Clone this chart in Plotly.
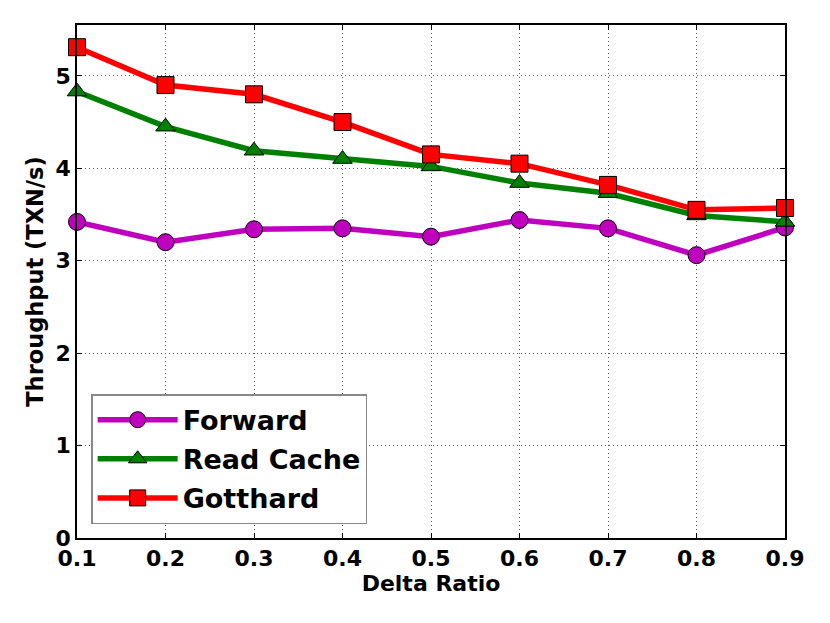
import plotly.graph_objects as go

# Delta ratio sweep
delta_ratio = [0.1, 0.2, 0.3, 0.4, 0.5, 0.6, 0.7, 0.8, 0.9]

# Throughput (TXN/s)
forward    = [3.42, 3.20, 3.34, 3.35, 3.26, 3.44, 3.35, 3.06, 3.36]
read_cache = [4.83, 4.45, 4.19, 4.10, 4.02, 3.84, 3.73, 3.49, 3.42]
gotthard   = [5.31, 4.90, 4.80, 4.50, 4.15, 4.05, 3.82, 3.55, 3.57]

x_ticks = [0.1, 0.2, 0.3, 0.4, 0.5, 0.6, 0.7, 0.8, 0.9]
y_ticks = [0, 1, 2, 3, 4, 5]

SERIES = [
    ("Forward",    forward,    "#BF00BF", "circle"),
    ("Read Cache", read_cache, "#008000", "triangle-up"),
    ("Gotthard",   gotthard,   "#FF0000", "square"),
]

FONT = "DejaVu Sans"

fig = go.Figure()
for name, vals, color, symbol in SERIES:
    fig.add_trace(go.Scatter(
        x=delta_ratio, y=vals,
        mode="lines+markers",
        name=name,
        legendgroup=name,
        line=dict(color=color, width=5.5),
        marker=dict(symbol=symbol, size=17, color=color,
                    line=dict(color="black", width=1)),
        cliponaxis=False,
    ))

axis_common = dict(
    showline=True, linecolor="black", linewidth=1.5, mirror="ticks",
    ticks="inside", ticklen=5, tickcolor="black",
    showgrid=True, gridcolor="#555555", gridwidth=1, griddash="1px,3px",
    zeroline=False, automargin=False,
    tickfont=dict(family=FONT, size=22, color="black", weight="bold"),
)

fig.update_xaxes(
    range=[0.1, 0.9], tickvals=x_ticks, ticktext=[f"{v:.1f}" for v in x_ticks],
    title=dict(text="Delta Ratio", standoff=4,
               font=dict(family=FONT, size=22, color="black", weight="bold")),
    **axis_common,
)
fig.update_yaxes(
    range=[0, 5.55], tickvals=y_ticks,
    title=dict(text="Throughput (TXN/s)", standoff=6,
               font=dict(family=FONT, size=22.5, color="black", weight="bold")),
    **axis_common,
)

# page body adds an 8px offset, so margins are shifted to land the plot
# where the reference has it
fig.update_layout(
    width=830, height=623,
    margin=dict(l=69, r=53, t=17, b=93),
    paper_bgcolor="white", plot_bgcolor="white",
    legend=dict(
        x=0.02, y=0.027, xanchor="left", yanchor="bottom",
        bgcolor="white", bordercolor="#888888", borderwidth=1.5,
        font=dict(family=FONT, size=27, color="black", weight="bold"),
        itemwidth=80, tracegroupgap=1,
    ),
    showlegend=True,
)

fig.write_html("out.html")
